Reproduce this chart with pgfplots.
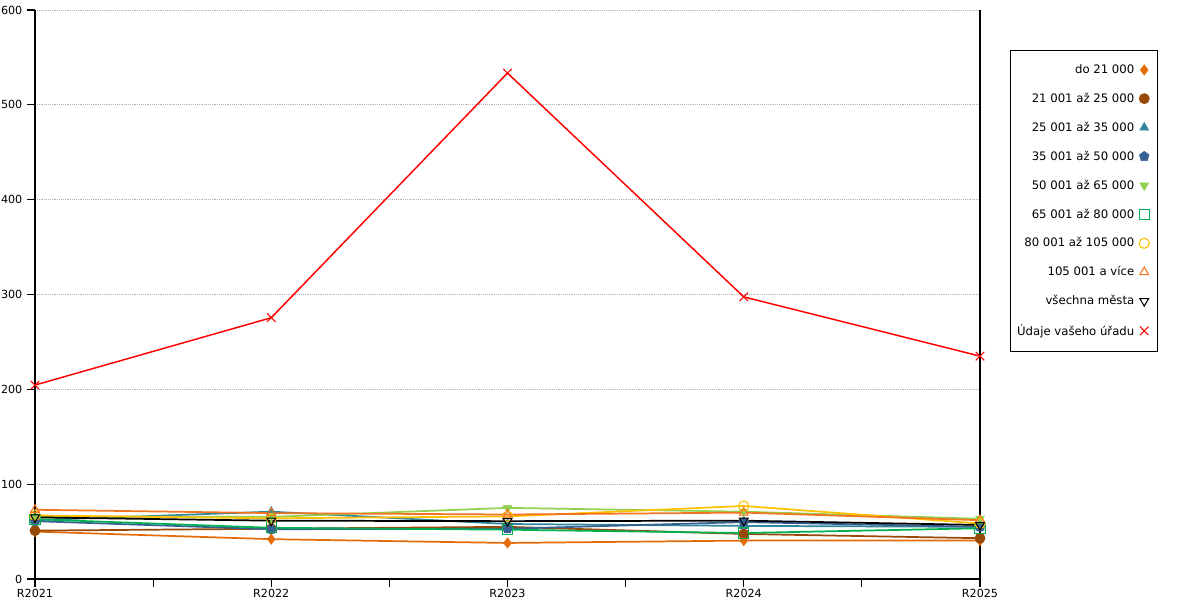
\documentclass[border=0pt]{standalone}
\usepackage{pgfplots}
\pgfplotsset{compat=1.18}
\usepackage{fontspec}
\setmainfont{DejaVu Sans}

\definecolor{cOrange}{HTML}{E46C0A}
\definecolor{cBrown}{HTML}{984807}
\definecolor{cTeal}{HTML}{31859C}
\definecolor{cBlue}{HTML}{376092}
\definecolor{cLime}{HTML}{92D050}
\definecolor{cGreen}{HTML}{00B050}
\definecolor{cGold}{HTML}{FFC000}
\definecolor{cOrange2}{HTML}{F4731F}

\begin{document}
\begin{tikzpicture}
\useasboundingbox (0,0) rectangle (900bp,450bp);
\begin{axis}[
    at={(26.25bp,15.75bp)}, anchor=south west,
    scale only axis,
    width=708.75bp, height=426.75bp,
    xmin=0, xmax=4, ymin=0, ymax=600,
    axis lines=left, axis line style={-, black, line width=0.9bp},
    xtick={0,1,2,3,4},
    xticklabels={R2021,R2022,R2023,R2024,R2025},
    minor x tick num=1,
    ytick={0,100,...,600},
    tick align=outside,
    major tick length=6bp, minor tick length=6bp,
    tick style={black, line width=0.8bp},
    ymajorgrids, grid style={densely dotted, gray!60, line width=0.6bp},
    tick label style={font=\fontsize{8.4}{9}\selectfont},
    xticklabel style={yshift=1.5bp},
    /pgf/number format/assume math mode=true,
    clip=false,
    legend cell align=right,
    legend plot pos=right,
    legend image code/.code={\path (0,0) (0.38cm,0);
        \draw[#1] plot coordinates {(0.17cm,0cm)};},
    legend style={at={(1.0317,0.9297)}, anchor=north west,
        font=\fontsize{8.8}{10}\selectfont, draw=black, line width=0.8bp,
        row sep=9.2bp, inner xsep=3bp, inner ysep=8.5bp},
    every axis plot/.append style={line width=1.3bp, mark size=3.8bp},
]
\addplot[cOrange, mark=diamond*, mark options={fill=cOrange, line width=0.5bp}] coordinates {
    (0,50) (1,42) (2,38) (3,40.5) (4,40.5)};
\addplot[cBrown, mark=*, mark options={fill=cBrown, line width=0.5bp}] coordinates {
    (0,51) (1,53) (2,55) (3,47.5) (4,43)};
\addplot[cTeal, mark=triangle*, mark options={fill=cTeal, line width=0.5bp}] coordinates {
    (0,62) (1,71) (2,58) (3,56) (4,55)};
\addplot[cBlue, mark=pentagon*, mark options={fill=cBlue, line width=0.5bp}] coordinates {
    (0,61) (1,52.5) (2,53) (3,60) (4,55)};
\addplot[cLime, mark=triangle*, mark options={fill=cLime, rotate=180, line width=0.5bp}] coordinates {
    (0,66) (1,65.5) (2,75) (3,71) (4,63.5)};
\addplot[cGreen, mark=square, mark options={line width=0.8bp}] coordinates {
    (0,63) (1,54) (2,52) (3,48.5) (4,53.5)};
\addplot[cGold, mark=o, mark options={line width=0.8bp}] coordinates {
    (0,67) (1,64) (2,66) (3,77) (4,58.5)};
\addplot[cOrange2, mark=triangle, mark options={line width=0.8bp}] coordinates {
    (0,73) (1,69.5) (2,68) (3,70) (4,62)};
\addplot[black, mark=triangle, mark options={rotate=180, line width=0.8bp}] coordinates {
    (0,65) (1,61.5) (2,61) (3,61.5) (4,57)};
\addplot[red, line width=1.1bp, mark=x, mark size=4.5bp, mark options={line width=0.8bp}] coordinates {
    (0,204.5) (1,275.5) (2,533.5) (3,297.5) (4,235)};
\legend{do 21 000, 21 001 až 25 000, 25 001 až 35 000, 35 001 až 50 000,
    50 001 až 65 000, 65 001 až 80 000, 80 001 až 105 000, 105 001 a více,
    všechna města, Údaje vašeho úřadu}
\draw[black, line width=0.9bp] (rel axis cs:1,0) -- (rel axis cs:1,1);
\end{axis}
\end{tikzpicture}
\end{document}
